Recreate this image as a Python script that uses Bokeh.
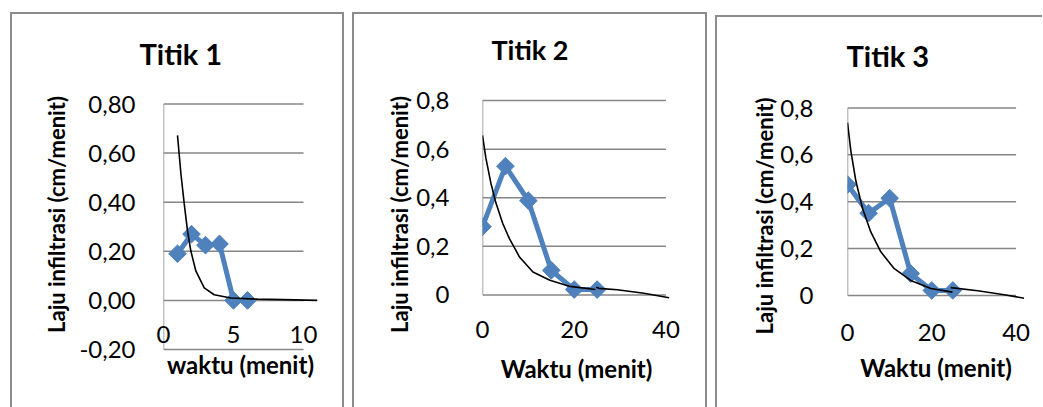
from bokeh.plotting import figure
from bokeh.layouts import row
from bokeh.models import FixedTicker
from bokeh.embed import file_html
from bokeh.resources import INLINE
import numpy as np

# ---------------- data ----------------
titles = ["Titik 1", "Titik 2", "Titik 3"]
x_titles = ["waktu (menit)", "Waktu (menit)", "Waktu (menit)"]
y_title = "Laju infiltrasi (cm/menit)"

# Titik 1
t1_x = [1, 2, 3, 4, 5, 6]
t1_y = [0.19, 0.27, 0.225, 0.23, 0.0, 0.0]
t1_fit_x = [1.0, 1.24, 1.48, 1.71, 1.95, 2.31, 2.91, 3.62, 4.81, 6.7, 8.5, 11.0]
t1_fit_y = [0.672, 0.518, 0.394, 0.285, 0.202, 0.12, 0.051, 0.023, 0.01, 0.005, 0.003, 0.0]
t1_xticks = [0, 5, 10]
t1_yticks = [-0.2, 0.0, 0.2, 0.4, 0.6, 0.8]
t1_ylabels = ["-0,20", "0,00", "0,20", "0,40", "0,60", "0,80"]

# Titik 2
t2_x = [0, 5, 10, 15, 20, 25]
t2_y = [0.281, 0.53, 0.388, 0.101, 0.022, 0.022]
t2_fit_x = [0.0, 0.73, 1.83, 2.94, 4.4, 5.87, 8.07, 11.0, 14.7, 19.1, 24.6]
t2_fit_y = [0.657, 0.564, 0.46, 0.378, 0.295, 0.232, 0.156, 0.094, 0.06, 0.035, 0.022]
t2_fit2_x = [24.8, 25.4, 29.4, 35.2, 40.7]
t2_fit2_y = [0.031, 0.027, 0.021, 0.007, -0.012]
t2_xticks = [0, 20, 40]
t2_yticks = [0.0, 0.2, 0.4, 0.6, 0.8]
t2_ylabels = ["0", "0,2", "0,4", "0,6", "0,8"]

# Titik 3
t3_x = [0, 5, 10, 15, 20, 25]
t3_y = [0.473, 0.351, 0.415, 0.093, 0.021, 0.021]
t3_fit_x = [0.0, 0.8, 2.0, 3.56, 5.5, 7.9, 11.1, 15.0, 19.8, 24.9]
t3_fit_y = [0.738, 0.616, 0.487, 0.372, 0.272, 0.186, 0.114, 0.064, 0.029, 0.014]
t3_fit2_x = [24.5, 30.9, 37.2, 41.9]
t3_fit2_y = [0.033, 0.02, 0.003, -0.012]
t3_xticks = [0, 20, 40]
t3_yticks = [0.0, 0.2, 0.4, 0.6, 0.8]
t3_ylabels = ["0", "0,2", "0,4", "0,6", "0,8"]

# ---------------- style ----------------
FONT = "Lato"
BLUE = "#4F81BD"
GRID = "#868686"
BORDER = "#8c8c8c"
TOP_BORDER = 62
BOTTOM_BORDER = 57


def panel(title, xt, xs, ys, fits, xticks, yticks, ylabels, xr, yr, width, height,
          left_b, right_b, margin, right_edge, title_offset, title_standoff, title_size,
          xlab_standoff, xaxis_standoff, ylab_standoff, yaxis_standoff):
    p = figure(width=width, height=height, x_range=xr, y_range=yr,
               output_backend="svg", toolbar_location=None,
               min_border_left=left_b, min_border_right=right_b,
               min_border_top=TOP_BORDER, min_border_bottom=BOTTOM_BORDER,
               title=title, margin=margin)
    st = {"border-left": f"2px solid {BORDER}", "border-top": f"2px solid {BORDER}",
          "box-sizing": "border-box"}
    if right_edge:
        st["border-right"] = f"2px solid {BORDER}"
    p.styles = st
    p.outline_line_color = None
    p.background_fill_color = "white"
    p.border_fill_color = "white"
    p.grid.grid_line_color = None

    p.title.text_font = FONT
    p.title.text_font_size = title_size
    p.title.text_font_style = "bold"
    p.title.text_color = "black"
    p.title.align = "left"
    p.title.offset = title_offset
    p.title.standoff = title_standoff

    for ax in (p.xaxis[0], p.yaxis[0]):
        ax.axis_line_color = None
        ax.major_tick_line_color = None
        ax.minor_tick_line_color = None
        ax.major_label_text_font = FONT
        ax.major_label_text_font_size = "24px"
        ax.major_label_text_color = "black"
        ax.axis_label_text_font = FONT
        ax.axis_label_text_font_style = "bold"
        ax.axis_label_text_color = "black"
    p.xaxis.axis_label_text_font_size = "24px"
    p.yaxis.axis_label_text_font_size = "22px"

    p.xaxis.ticker = FixedTicker(ticks=xticks)
    p.yaxis.ticker = FixedTicker(ticks=yticks)
    p.yaxis.major_label_overrides = {v: s for v, s in zip(yticks, ylabels)}
    p.xaxis.axis_label = xt
    p.yaxis.axis_label = y_title
    p.xaxis.major_label_standoff = xlab_standoff
    p.xaxis.axis_label_standoff = xaxis_standoff
    p.yaxis.major_label_standoff = ylab_standoff
    p.yaxis.axis_label_standoff = yaxis_standoff

    # gridlines (horizontal) and vertical axis line
    xmax = xticks[-1]
    p.segment(x0=[0] * len(yticks), x1=[xmax] * len(yticks), y0=yticks, y1=yticks,
              line_color=GRID, line_width=1.5)
    p.segment(x0=[0], x1=[0], y0=[yticks[0]], y1=[yticks[-1]], line_color=GRID, line_width=1.5)

    # data
    p.line(xs, ys, line_color=BLUE, line_width=5, line_join="round")
    p.scatter(xs, ys, marker="square", angle=np.pi / 4, size=12.5,
              fill_color=BLUE, line_color=BLUE)
    for fx, fy in fits:
        p.line(fx, fy, line_color="black", line_width=1.6)
    return p


p1 = panel(titles[0], x_titles[0], t1_x, t1_y, [(t1_fit_x, t1_fit_y)],
           t1_xticks, t1_yticks, t1_ylabels, (0, 11), (-0.2123, 0.9121),
           334, 395, 151, 29, (12, 0, 0, 10), True,
           -24, 11, "29px", -33, 4, 22, 6)

p2 = panel(titles[1], x_titles[1], t2_x, t2_y, [(t2_fit_x, t2_fit_y), (t2_fit2_x, t2_fit2_y)],
           t2_xticks, t2_yticks, t2_ylabels, (0, 41), (-0.2372, 0.8993),
           355, 395, 128, 39, (12, 0, 0, 8), True,
           9, 21, "27px", -38, 13, 27, 0)

p3 = panel(titles[2], x_titles[2], t3_x, t3_y, [(t3_fit_x, t3_fit_y), (t3_fit2_x, t3_fit2_y)],
           t3_xticks, t3_yticks, t3_ylabels, (0, 42), (-0.2439, 0.9217),
           327, 392, 130, 20, (15, 0, 0, 8), False,
           -1, 13, "29px", -35, 9, 28, -1)

layout = row(p1, p2, p3)
open("out.html", "w").write(file_html(layout, INLINE))
